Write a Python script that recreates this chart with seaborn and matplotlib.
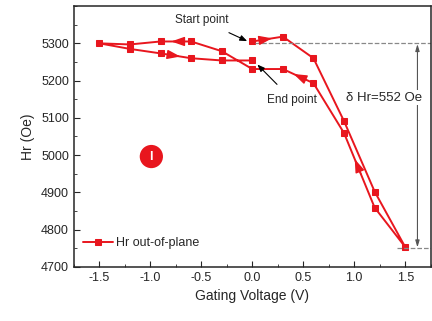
import matplotlib
matplotlib.use('Agg')
import matplotlib.pyplot as plt
import seaborn as sns
import pandas as pd
from matplotlib.ticker import MultipleLocator

# gating voltage sweep, in measurement order (start at 0 V, up to 1.5, down to -1.5, back to 0)
voltage = [0.0, 0.3, 0.6, 0.9, 1.2, 1.5, 1.2, 0.9, 0.6, 0.3, 0.0,
           -0.3, -0.6, -0.9, -1.2, -1.5, -1.2, -0.9, -0.6, -0.3, 0.0]
hr = [5305, 5318, 5260, 5091, 4902, 4753, 4859, 5059, 5193, 5231, 5231,
      5279, 5305, 5305, 5297, 5300, 5285, 5273, 5260, 5254, 5254]
# segments (start index) that carry a direction arrow
arrow_segs = [0, 6, 8, 12, 17]

x_ticks = [-1.5, -1.0, -0.5, 0.0, 0.5, 1.0, 1.5]
y_ticks = [4700, 4800, 4900, 5000, 5100, 5200, 5300]

red = '#e8161e'
df = pd.DataFrame({'V': voltage, 'Hr': hr, 'step': range(len(voltage))})

sns.set_style('ticks')
plt.rcParams['font.family'] = ['Liberation Sans', 'DejaVu Sans']

fig = plt.figure(figsize=(4.32, 3.21), dpi=100)
ax = fig.add_axes([0.171, 0.169, 0.826, 0.812])

sns.lineplot(data=df, x='V', y='Hr', sort=False, estimator=None, color=red,
             marker='s', markersize=5, markeredgecolor=red, linewidth=1.4,
             label='Hr out-of-plane', ax=ax)

# direction arrows along the path
for i in arrow_segs:
    x0, y0 = voltage[i], hr[i]
    x1, y1 = voltage[i + 1], hr[i + 1]
    tx, ty = x0 + 0.65 * (x1 - x0), y0 + 0.65 * (y1 - y0)
    bx, by = x0 + 0.45 * (x1 - x0), y0 + 0.45 * (y1 - y0)
    ax.annotate('', xy=(tx, ty), xytext=(bx, by),
                arrowprops=dict(arrowstyle='-|>,head_length=1.0,head_width=0.35',
                                color=red, lw=1, shrinkA=0, shrinkB=0,
                                mutation_scale=8))

# reference levels and delta arrow
ax.plot([0.03, 1.75], [5300, 5300], ls='--', color='#888888', lw=0.9)
ax.plot([1.42, 1.75], [4750, 4750], ls='--', color='#888888', lw=0.9)
ax.annotate('', xy=(1.62, 4752), xytext=(1.62, 5298),
            arrowprops=dict(arrowstyle='<|-|>,head_length=0.4,head_width=0.12',
                            color='#555555', lw=0.8, shrinkA=0, shrinkB=0))
ax.text(1.29, 5154, '\u03b4 Hr=552 Oe', fontsize=9.5, ha='center', va='center',
        bbox=dict(fc='white', ec='none', pad=1))

ax.annotate('Start point', xy=(-0.05, 5306), xytext=(-0.5, 5363), fontsize=8.5,
            ha='center', va='center',
            arrowprops=dict(arrowstyle='-|>,head_length=0.5,head_width=0.2',
                            color='black', lw=0.8, shrinkA=6, shrinkB=0))
ax.annotate('End point', xy=(0.05, 5243), xytext=(0.39, 5149), fontsize=8.5,
            ha='center', va='center',
            arrowprops=dict(arrowstyle='-|>,head_length=0.5,head_width=0.2',
                            color='black', lw=0.8, shrinkA=6, shrinkB=0))

ax.text(-0.99, 4996, 'I', color='white', fontsize=9, fontweight='bold',
        ha='center', va='center',
        bbox=dict(boxstyle='circle,pad=0.45', fc=red, ec='none'))

ax.set_xlim(-1.75, 1.75)
ax.set_ylim(4700, 5400)
ax.set_xticks(x_ticks)
ax.set_xticklabels([f'{v:.1f}' for v in x_ticks])
ax.set_yticks(y_ticks)
ax.xaxis.set_minor_locator(MultipleLocator(0.25))
ax.yaxis.set_minor_locator(MultipleLocator(50))
ax.tick_params(which='both', direction='in', labelsize=9)
ax.tick_params(which='major', length=4)
ax.tick_params(which='minor', length=2.5)
for s in ax.spines.values():
    s.set_linewidth(1.1)
    s.set_visible(True)

ax.set_xlabel('Gating Voltage (V)', fontsize=10)
ax.set_ylabel('Hr (Oe)', fontsize=10)

ax.legend(loc='center left', bbox_to_anchor=(0.0, 0.09), frameon=False,
          fontsize=9, handlelength=2.4, handletextpad=0.3, borderaxespad=0.3)

fig.savefig('out.png', dpi=100)
